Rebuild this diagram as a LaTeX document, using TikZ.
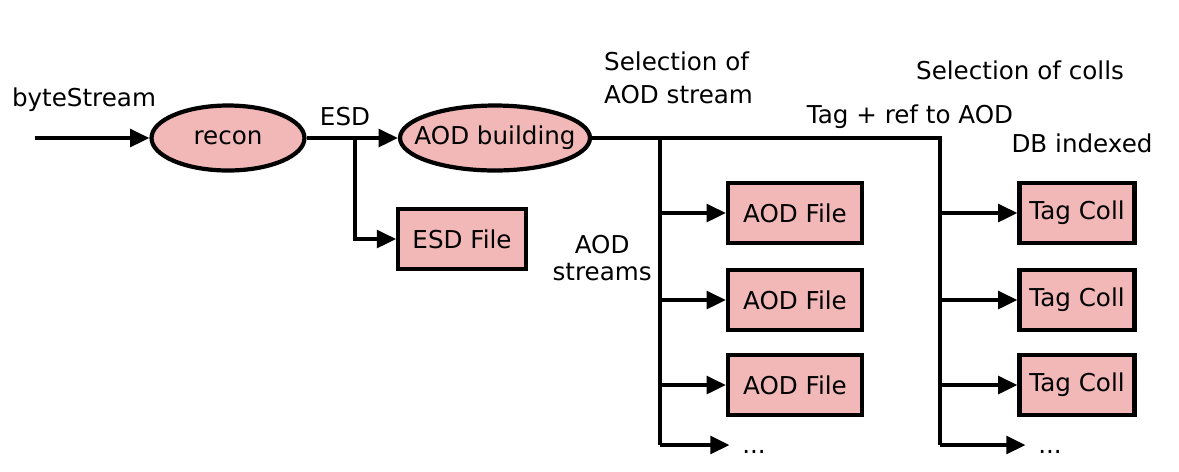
\documentclass[tikz,border=0pt]{standalone}
\usepackage{fontspec}
\setmainfont{DejaVu Sans}
\usetikzlibrary{shapes.geometric,arrows.meta}
\definecolor{boxpink}{RGB}{242,184,184}
\tikzset{
  flow/.style={line width=2.4pt, -{Triangle[length=11pt,width=10pt]}},
  wire/.style={line width=2.4pt},
  proc/.style={ellipse, draw, line width=2.4pt, fill=boxpink, minimum height=1.3cm, inner sep=0pt},
  store/.style={rectangle, draw, line width=2.4pt, fill=boxpink, minimum height=1.2cm, inner sep=0pt}
}

\begin{document}
\begin{tikzpicture}[x=0.02cm, y=-0.02cm, font=\fontsize{14}{17}\selectfont]
  \useasboundingbox (0,0) rectangle (1179,471);

  % processing steps
  \node[proc, minimum width=3.06cm] (recon) at (228,138) {recon};
  \node[proc, minimum width=3.8cm, inner xsep=-9pt] (aod) at (495,138) {AOD building};
  \node[store, minimum width=2.55cm] (esdfile) at (462,239) {ESD File};

  % output files and collections
  \foreach \i/\y in {1/213,2/300,3/385} {
    \node[store, minimum width=2.68cm] (aodfile\i) at (795,\y) {AOD File};
    \node[store, minimum width=2.3cm] (tag\i) at (1077,\y) {Tag Coll};
  }
  \node[inner sep=0pt] (aodmore) at (754,452) {...};
  \node[inner sep=0pt] (tagmore) at (1050,452) {...};

  % labels
  \node (bytes) at (84,100) {byteStream};
  \node (esd) at (345,117) {ESD};
  \node[align=left, anchor=west, font=\fontsize{14}{19}\selectfont] (selaod) at (598,78) {Selection of\\AOD stream};
  \node[align=center, anchor=east, inner sep=0pt, font=\fontsize{14}{15}\selectfont] (streams) at (652,258) {AOD\\streams};
  \node (selcolls) at (1020,70) {Selection of colls};
  \node (tagref) at (910,117) {Tag + ref to AOD};
  \node (dbidx) at (1082,143) {DB indexed};

  % junctions
  \coordinate (in) at (35,138);
  \coordinate (esdj) at (355,138);
  \coordinate (aodj) at (660,138);
  \coordinate (tagj) at (940,138);
  \coordinate (aodend) at (660,445);
  \coordinate (tagend) at (940,445);

  % connectors
  \draw[flow] (in) -- (recon);
  \draw[flow] (recon) -- (aod);
  \draw[flow] (esdj) |- (esdfile);
  \draw[wire] (aod.east) -- (tagj) -- (tagend);
  \draw[wire] (aodj) -- (aodend);
  \foreach \i in {1,2,3} {
    \draw[flow] (aodj |- aodfile\i) -- (aodfile\i);
    \draw[flow] (tagj |- tag\i) -- (tag\i);
  }
  \draw[flow] (aodend) -- ([xshift=-7pt]aodend -| aodmore.west);
  \draw[flow] (tagend) -- ([xshift=-7pt]tagend -| tagmore.west);
\end{tikzpicture}
\end{document}
